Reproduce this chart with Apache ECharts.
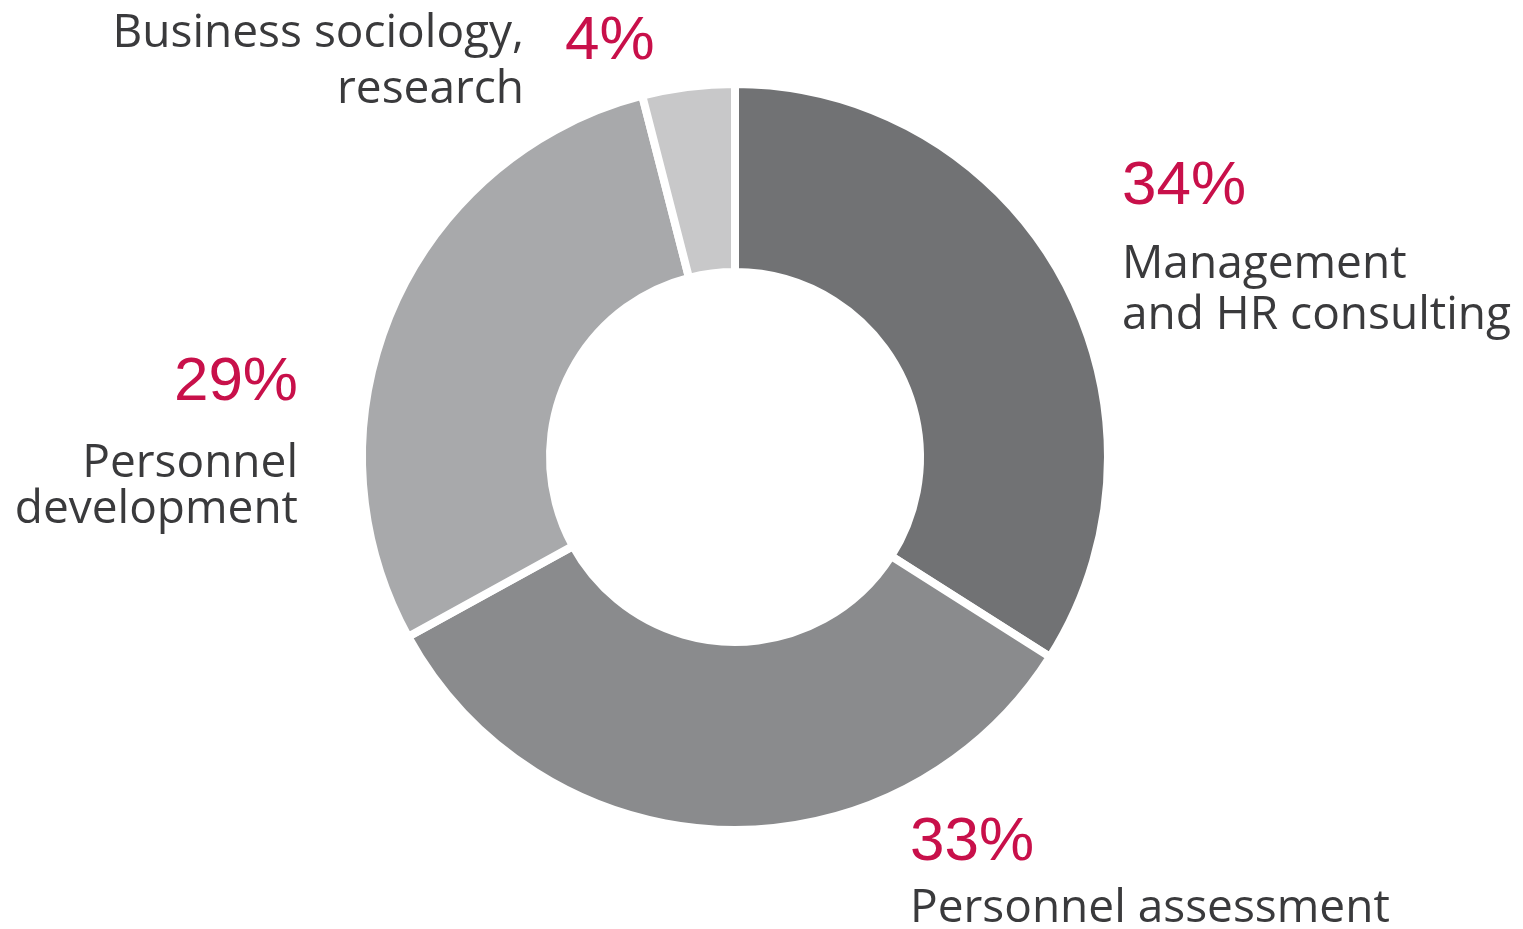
<!DOCTYPE html>
<html><head><meta charset="utf-8">
<script src="https://cdn.jsdelivr.net/npm/echarts@6/dist/echarts.min.js"></script>
<style>html,body{margin:0;padding:0;background:#fff}#c{width:1523px;height:929px}</style>
</head><body><div id="c"></div>
<script>
// ---- data ----
const categories = ['Management\nand HR consulting', 'Personnel assessment', 'Personnel\ndevelopment', 'Business sociology,\nresearch'];
const shares = [34, 33, 29, 4];

// ---- styles / layout ----
const sliceColors = ['#717274', '#8a8b8d', '#a8a9ab', '#c8c8c9'];
const nameLayout = [
  { x: 1122, y: 290.5, align: 'left', lh: 51 },
  { x: 910, y: 909, align: 'left', lh: 51 },
  { x: 298, y: 487, align: 'right', lh: 46 },
  { x: 524, y: 62, align: 'right', lh: 56 }
];
const pctLayout = [
  { x: 1122, y: 187, align: 'left' },
  { x: 910, y: 843, align: 'left' },
  { x: 298, y: 383, align: 'right' },
  { x: 565, y: 42, align: 'left' }
];

const chart = echarts.init(document.getElementById('c'), null, { renderer: 'canvas' });

const sliceData = categories.map((n, i) => ({
  name: n, value: shares[i],
  itemStyle: { color: sliceColors[i] },
  label: { lineHeight: nameLayout[i].lh }
}));
const pctData = categories.map((n, i) => ({ name: n, value: shares[i] }));

const common = {
  type: 'pie',
  center: [735, 457],
  radius: [185, 373],
  startAngle: 90,
  clockwise: true,
  avoidLabelOverlap: false,
  animation: false,
  labelLine: { show: false },
  emphasis: { disabled: true },
  silent: true
};

chart.setOption({
  backgroundColor: '#fff',
  series: [
    Object.assign({}, common, {
      data: sliceData,
      itemStyle: { borderColor: '#ffffff', borderWidth: 8 },
      label: {
        show: true, position: 'outside', formatter: '{b}',
        fontFamily: 'Open Sans', fontSize: 46, color: '#3a3a3c'
      },
      labelLayout: p => {
        const l = nameLayout[p.dataIndex];
        return { x: l.x, y: l.y, align: l.align, verticalAlign: 'middle', hideOverlap: false };
      }
    }),
    Object.assign({}, common, {
      data: pctData,
      z: 3,
      itemStyle: { color: 'rgba(0,0,0,0)', borderWidth: 0 },
      label: {
        show: true, position: 'outside', formatter: p => p.value + '%',
        fontFamily: 'Liberation Sans', fontSize: 62, color: '#c8104a'
      },
      labelLayout: p => {
        const l = pctLayout[p.dataIndex];
        return { x: l.x, y: l.y, align: l.align, verticalAlign: 'middle', hideOverlap: false };
      }
    })
  ]
});
</script></body></html>
